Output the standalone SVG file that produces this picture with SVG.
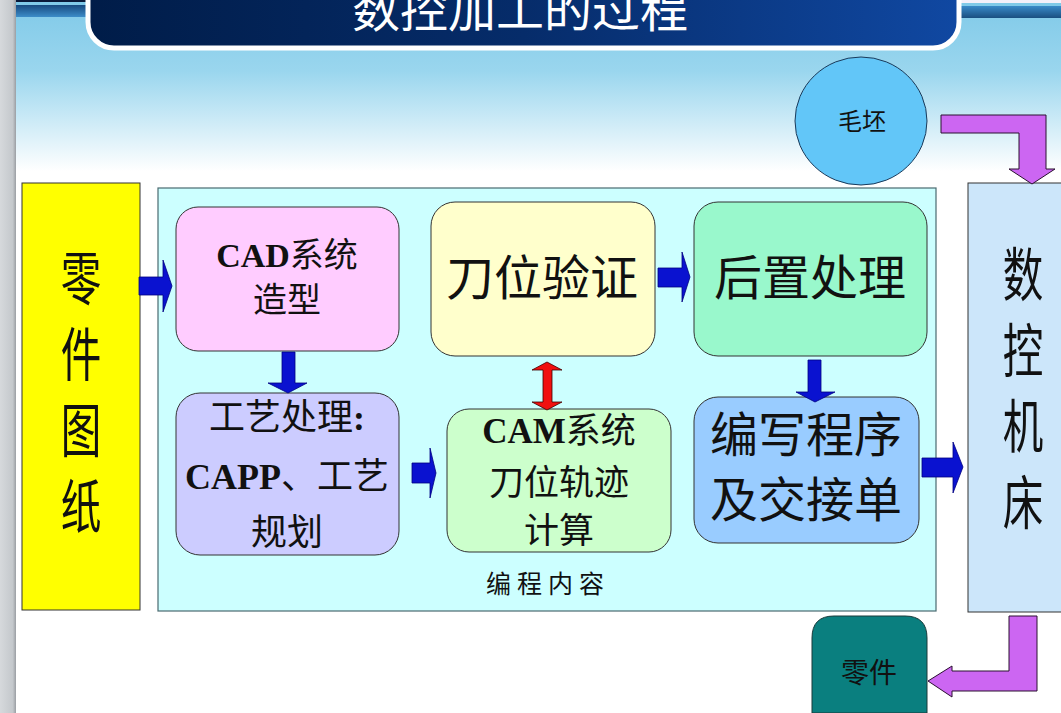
<svg xmlns="http://www.w3.org/2000/svg" width="1061" height="713" viewBox="0 0 1061 713">
<defs>
<linearGradient id="bg" x1="0" y1="0" x2="0" y2="1">
<stop offset="0" stop-color="#7fc9e8"/>
<stop offset="0.1" stop-color="#9ad6ee"/>
<stop offset="0.24" stop-color="#ffffff"/>
<stop offset="1" stop-color="#ffffff"/>
</linearGradient>
<linearGradient id="ban" x1="0" y1="0" x2="1" y2="0">
<stop offset="0" stop-color="#001c48"/>
<stop offset="0.5" stop-color="#062c6a"/>
<stop offset="1" stop-color="#1048a2"/>
</linearGradient>
<linearGradient id="bar" x1="0" y1="0" x2="0" y2="1">
<stop offset="0" stop-color="#174a80"/>
<stop offset="1" stop-color="#3c8cc8"/>
</linearGradient>
<linearGradient id="barR" x1="0" y1="0" x2="0" y2="1">
<stop offset="0" stop-color="#3a8ac8"/>
<stop offset="1" stop-color="#1a4f80"/>
</linearGradient>
<linearGradient id="gray" x1="0" y1="0" x2="1" y2="0">
<stop offset="0" stop-color="#d6d9dc"/>
<stop offset="0.8" stop-color="#c4c8cc"/>
<stop offset="1" stop-color="#9a9ea3"/>
</linearGradient>
</defs>
<style>
.cjk{font-family:"Noto Sans CJK SC","Noto Sans",sans-serif;fill:#111}
.mix{font-family:"Liberation Serif","Noto Sans CJK SC",serif;fill:#111}
.lat{font-family:"Liberation Serif",serif;font-weight:bold}
.vert{writing-mode:vertical-rl;font-size:58px;letter-spacing:18px}
.box{stroke:#333;stroke-width:1}
.blue{fill:#0a12d0;stroke:#000080;stroke-width:0.8}
.purple{fill:#cc66f2;stroke:#2a1030;stroke-width:1}
</style>
<rect x="0" y="0" width="1061" height="713" fill="url(#bg)"/>
<rect x="0" y="0" width="16" height="713" fill="url(#gray)"/>
<g id="header">
<rect x="16" y="0" width="75" height="2" fill="#0a1a3a"/>
<rect x="16" y="5" width="75" height="12" fill="url(#bar)"/>
<rect x="955" y="0" width="106" height="3" fill="#f4f0fa"/>
<rect x="955" y="6" width="106" height="12" fill="url(#barR)"/>
<rect x="88" y="-30" width="871" height="78" rx="26" fill="url(#ban)" stroke="#ffffff" stroke-width="5"/>
<text x="520" y="27" text-anchor="middle" class="cjk" style="fill:#ffffff" font-size="48">数控加工的过程</text>
</g>
<g id="blank">
<ellipse cx="861" cy="121" rx="66" ry="64" fill="#62c6f8" stroke="#1a3a5a" stroke-width="1"/>
<text x="862" y="130" text-anchor="middle" class="cjk" font-size="24">毛坯</text>
</g>
<g id="drawing">
<rect x="22" y="183" width="118" height="427" fill="#ffff00" class="box"/>
<text x="81" y="249" class="cjk vert" transform="translate(81 0) scale(0.7 1) translate(-81 0)">零件图纸</text>
</g>
<g id="programming">
<rect x="158" y="188" width="778" height="423" fill="#ccffff" stroke="#4a6a70" stroke-width="1.2"/>
<text x="548" y="593" text-anchor="middle" class="cjk" font-size="25" letter-spacing="6">编程内容</text>
</g>
<g id="cad">
<rect x="176" y="207" width="223" height="144" rx="22" fill="#ffccff" class="box"/>
<text x="287" y="267" text-anchor="middle" class="mix" font-size="34"><tspan class="lat">CAD</tspan>系统</text>
<text x="287" y="312" text-anchor="middle" class="mix" font-size="34">造型</text>
</g>
<g id="capp">
<rect x="176" y="393" width="223" height="162" rx="24" fill="#ccccff" class="box"/>
<text x="287" y="430" text-anchor="middle" class="mix" font-size="36">工艺处理<tspan class="lat">:</tspan></text>
<text x="287" y="489" text-anchor="middle" class="mix" font-size="36"><tspan class="lat">CAPP</tspan>、工艺</text>
<text x="287" y="545" text-anchor="middle" class="mix" font-size="36">规划</text>
</g>
<g id="verify">
<rect x="431" y="202" width="224" height="154" rx="24" fill="#ffffcc" class="box"/>
<text x="542" y="295" text-anchor="middle" class="mix" font-size="48">刀位验证</text>
</g>
<g id="post">
<rect x="694" y="202" width="233" height="154" rx="24" fill="#99f8cc" class="box"/>
<text x="810" y="295" text-anchor="middle" class="mix" font-size="48">后置处理</text>
</g>
<g id="cam">
<rect x="447" y="409" width="224" height="143" rx="22" fill="#ccffcc" class="box"/>
<text x="559" y="443" text-anchor="middle" class="mix" font-size="35"><tspan class="lat">CAM</tspan>系统</text>
<text x="559" y="495" text-anchor="middle" class="mix" font-size="35">刀位轨迹</text>
<text x="559" y="543" text-anchor="middle" class="mix" font-size="35">计算</text>
</g>
<g id="program">
<rect x="694" y="397" width="225" height="146" rx="24" fill="#99ccff" class="box"/>
<text x="806" y="452" text-anchor="middle" class="mix" font-size="48">编写程序</text>
<text x="806" y="517" text-anchor="middle" class="mix" font-size="48">及交接单</text>
</g>
<g id="machine">
<rect x="968" y="183" width="100" height="429" fill="#cce6fa" class="box"/>
<text x="1023" y="245" class="cjk vert" transform="translate(1023 0) scale(0.7 1) translate(-1023 0)">数控机床</text>
</g>
<g id="part">
<path d="M812 713 V638 Q812 616 834 616 H905 Q927 616 927 638 V713 Z" fill="#0a7f7f" stroke="#1a3a3a" stroke-width="1"/>
<text x="869" y="683" text-anchor="middle" class="cjk" font-size="28">零件</text>
</g>
<g id="connectors">
<path class="blue" d="M139 277 H163 V260 L172 286 L163 312 V295 H139 Z"/>
<path class="blue" d="M282 352 H295 V383 H307 L288 393 L268 383 H282 Z"/>
<path class="blue" d="M412 463 H430 V448 L436 473 L430 498 V483 H412 Z"/>
<path class="blue" d="M658 268 H682 V252 L690 277 L682 302 V287 H658 Z"/>
<path class="blue" d="M808 360 H821 V392 H835 L815 402 L796 392 H808 Z"/>
<path class="blue" d="M922 458 H953 V442 L963 467 L953 493 V477 H922 Z"/>
<path d="M543 370 H532 L547 362 L562 370 H552 V402 H562 L547 410 L532 402 H543 Z" fill="#f01010" stroke="#400000" stroke-width="0.8"/>
<path class="purple" d="M941 115 H1046 V169 H1055 L1032 184 L1009 169 H1019 V133 H941 Z"/>
<path class="purple" d="M1009 616 H1037 V691 H952 V697 L928 681 L952 666 V671 H1009 Z"/>
</g>
</svg>
